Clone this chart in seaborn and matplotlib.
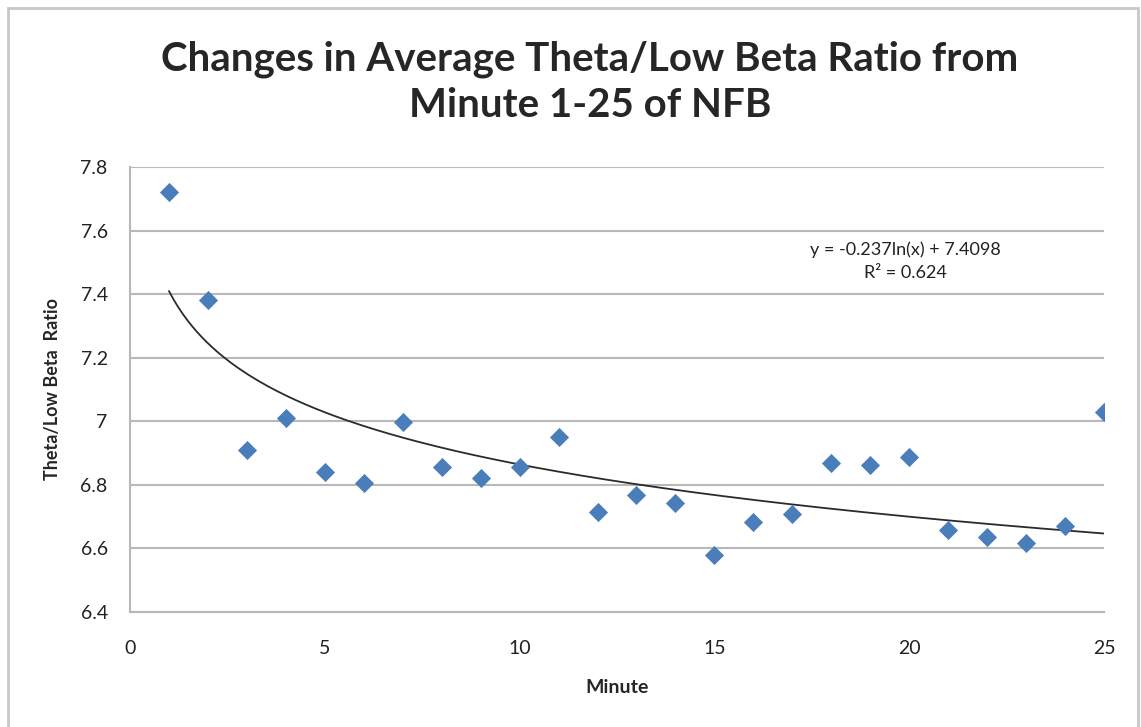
import numpy as np
import pandas as pd
import matplotlib
matplotlib.use("Agg")
import matplotlib.pyplot as plt
import seaborn as sns
from matplotlib.patches import Rectangle

# Data
minutes = list(range(1, 26))
ratio = [7.722, 7.381, 6.911, 7.009, 6.841, 6.806, 6.999, 6.856, 6.823, 6.856,
         6.950, 6.716, 6.768, 6.744, 6.579, 6.682, 6.707, 6.869, 6.861, 6.889,
         6.659, 6.635, 6.617, 6.669, 7.030]

# Logarithmic trendline shown on the chart
fit_slope = -0.237
fit_intercept = 7.4098
fit_r2 = 0.624

y_ticks = [6.4, 6.6, 6.8, 7.0, 7.2, 7.4, 7.6, 7.8]
y_tick_labels = ["6.4", "6.6", "6.8", "7", "7.2", "7.4", "7.6", "7.8"]
x_ticks = [0, 5, 10, 15, 20, 25]

df = pd.DataFrame({"Minute": minutes, "Ratio": ratio})

sns.set_style("white")
plt.rcParams["font.family"] = ["Lato", "DejaVu Sans"]

fig = plt.figure(figsize=(11.41, 7.27), dpi=100)
ax = fig.add_axes([0.1139, 0.1582, 0.8537, 0.6121])

# outer chart border
fig.patches.append(Rectangle((0.007, -0.02), 0.99, 1.009, transform=fig.transFigure,
                             fill=False, edgecolor="#c8c8c8", linewidth=2))

sns.scatterplot(data=df, x="Minute", y="Ratio", marker="D", s=95,
                color="#4a7ebb", edgecolor="#4a7ebb", linewidth=0, ax=ax, zorder=3)

xs = np.linspace(1, 25, 200)
ax.plot(xs, fit_slope * np.log(xs) + fit_intercept, color="#2b2b2b", linewidth=1.3, zorder=2)

ax.set_xlim(0, 25)
ax.set_ylim(6.4, 7.8)
ax.set_xticks(x_ticks)
ax.set_yticks(y_ticks)
ax.set_yticklabels(y_tick_labels)
ax.tick_params(axis="both", labelsize=14, length=0, labelcolor="#222222")
ax.tick_params(axis="x", pad=20)
ax.tick_params(axis="y", pad=16)
ax.yaxis.grid(True, color="#b8b8b8", linewidth=1.5)
ax.xaxis.grid(False)
for side in ["top", "right"]:
    ax.spines[side].set_visible(False)
for side in ["left", "bottom"]:
    ax.spines[side].set_color("#b8b8b8")
    ax.spines[side].set_linewidth(1.5)

ax.set_xlabel("Minute", fontsize=14, fontweight="bold", labelpad=16)
ax.set_ylabel("Theta/Low Beta  Ratio", fontsize=13, fontweight="bold", labelpad=14)

fig.text(0.517, 0.887, "Changes in Average Theta/Low Beta Ratio from\nMinute 1-25 of NFB",
         ha="center", va="center", fontsize=29, fontweight="bold", linespacing=1.3)

ax.text(19.9, 7.565, "y = -0.237ln(x) + 7.4098\nR² = 0.624", ha="center", va="top",
        fontsize=13, linespacing=1.55, color="#222222")

fig.savefig("out.png", dpi=100, facecolor="white")
